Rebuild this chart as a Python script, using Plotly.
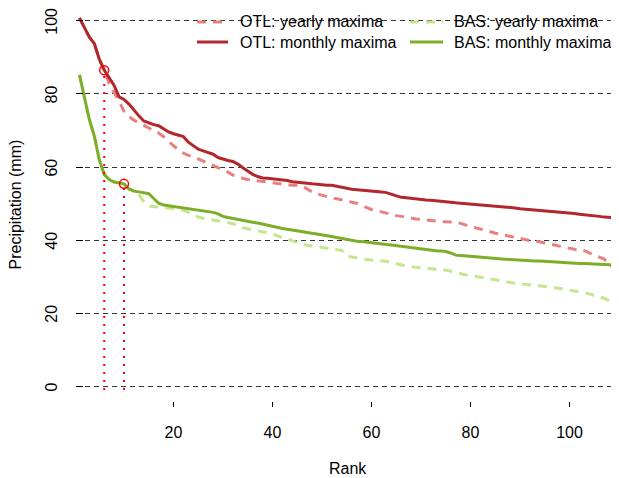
import plotly.graph_objects as go

ranks = list(range(1, 111))

otl_monthly = [100.8, 98.0, 95.5, 93.8, 89.5, 86.5, 84.2, 82.3, 79.2, 78.5,
               77.2, 75.5, 74.0, 72.6, 72.0, 71.6, 71.3, 70.5, 69.6, 69.1,
               68.8, 68.3, 66.8, 65.8, 64.9, 64.4, 63.9, 63.5, 62.6, 62.1,
               61.8, 61.5, 60.8, 59.8, 58.9, 58.0, 57.4, 57.0, 56.9, 56.8,
               56.6, 56.5, 56.3, 56.0, 55.8, 55.6, 55.5, 55.4, 55.3, 55.1,
               55.0, 55.0, 54.8, 54.6, 54.2, 53.9, 53.8, 53.7, 53.6, 53.5,
               53.4, 53.2, 53.0, 52.6, 52.2, 51.7, 51.6, 51.5, 51.4, 51.2,
               51.0, 50.9, 50.8, 50.6, 50.4, 50.4, 50.2, 50.1, 50.0, 49.9,
               49.8, 49.7, 49.6, 49.5, 49.3, 49.1, 49.0, 48.9, 48.8, 48.6,
               48.5, 48.3, 48.2, 48.2, 48.1, 48.0, 47.8, 47.7, 47.6, 47.5,
               47.3, 47.1, 47.0, 46.8, 46.6, 46.5, 46.3, 46.2, 46.1, 46.1]

otl_yearly = [100.8, 98.0, 95.5, 93.8, 89.5, 86.5, 82.8, 80.3, 78.0, 75.2,
              73.8, 72.8, 72.1, 71.6, 70.8, 70.0, 69.3, 68.3, 67.0, 65.8,
              64.8, 63.8, 63.2, 62.8, 62.2, 61.6, 61.0, 60.6, 59.8, 59.2,
              58.6, 57.8, 57.3, 56.9, 56.6, 56.4, 56.2, 56.0, 55.8, 55.6,
              55.5, 55.3, 55.1, 55.0, 55.0, 54.9, 54.0, 53.2, 52.7, 52.3,
              51.8, 51.5, 51.3, 51.0, 50.7, 50.4, 50.1, 49.5, 48.9, 48.4,
              48.1, 47.7, 47.3, 46.9, 46.7, 46.5, 46.2, 46.0, 45.8, 45.7,
              45.5, 45.3, 45.2, 45.1, 45.0, 45.0, 44.9, 44.6, 44.1, 43.7,
              43.4, 43.1, 42.8, 42.3, 41.9, 41.6, 41.2, 40.9, 40.6, 40.4,
              40.1, 39.9, 39.8, 39.5, 39.2, 38.9, 38.6, 38.2, 37.9, 37.7,
              37.5, 37.4, 37.1, 36.5, 36.0, 35.4, 34.8, 33.5, 32.0, 29.9]

bas_monthly = [85.2, 78.8, 73.0, 68.5, 62.0, 58.0, 56.6, 55.9, 55.7, 55.4,
               54.0, 53.4, 53.2, 53.0, 52.7, 51.4, 50.1, 49.6, 49.4, 49.3,
               49.2, 49.0, 48.8, 48.5, 48.3, 48.1, 47.9, 47.6, 47.2, 46.5,
               46.2, 45.9, 45.6, 45.3, 45.1, 44.9, 44.7, 44.4, 44.0, 43.6,
               43.4, 43.2, 43.0, 42.8, 42.5, 42.3, 42.1, 41.9, 41.7, 41.5,
               41.3, 41.0, 40.7, 40.4, 40.1, 39.9, 39.7, 39.6, 39.4, 39.3,
               39.1, 39.0, 38.8, 38.7, 38.5, 38.3, 38.1, 38.0, 37.8, 37.5,
               37.4, 37.2, 37.1, 37.0, 36.9, 36.5, 35.9, 35.8, 35.7, 35.6,
               35.5, 35.4, 35.4, 35.3, 35.1, 34.9, 34.8, 34.7, 34.6, 34.5,
               34.4, 34.4, 34.3, 34.3, 34.2, 34.1, 34.0, 33.9, 33.8, 33.8,
               33.7, 33.6, 33.6, 33.5, 33.5, 33.4, 33.3, 33.3, 33.2, 33.2]

bas_yearly = [85.2, 78.8, 73.0, 68.5, 62.0, 58.0, 56.6, 55.9, 55.7, 55.4,
              54.0, 53.5, 52.5, 50.5, 49.3, 49.1, 49.0, 48.9, 48.8, 48.6,
              48.4, 48.2, 47.6, 46.9, 46.3, 46.0, 45.8, 45.5, 45.2, 45.0,
              44.8, 44.5, 43.9, 43.4, 43.1, 42.8, 42.4, 42.1, 42.0, 41.8,
              41.2, 40.6, 40.3, 39.8, 39.2, 38.9, 38.6, 38.4, 38.2, 38.0,
              37.8, 37.6, 37.4, 37.2, 35.6, 35.3, 35.1, 34.9, 34.7, 34.6,
              34.5, 34.4, 34.2, 33.9, 33.5, 33.2, 32.9, 32.7, 32.6, 32.5,
              32.4, 32.2, 32.0, 31.9, 31.8, 31.5, 31.1, 30.8, 30.5, 30.3,
              30.1, 29.9, 29.6, 29.4, 29.2, 29.0, 28.7, 28.4, 28.2, 28.1,
              27.9, 27.8, 27.6, 27.5, 27.4, 27.2, 27.0, 26.8, 26.6, 26.4,
              26.2, 25.9, 25.6, 25.3, 24.9, 24.6, 24.1, 23.4, 20.5, 16.6]

x_ticks = [20, 40, 60, 80, 100]
y_ticks = [0, 20, 40, 60, 80, 100]
marked_ranks = [6, 10]  # OTL, BAS

series_names = ["OTL: yearly maxima", "OTL: monthly maxima",
                "BAS: yearly maxima", "BAS: monthly maxima"]
colors = ["#E88080", "#B2272B", "#C4E68C", "#7DAE2A"]
dashes = ["9px,7px", "solid", "9px,7px", "solid"]
series = [otl_yearly, otl_monthly, bas_yearly, bas_monthly]

FONT = "Arial, Liberation Sans, Helvetica, sans-serif"
# page body has an 8px default margin: figure sized to fill the rest of the window
OFF = 8
W, H = 619 - OFF, 478 - OFF
L, R, T, B = 76 - OFF, 0, 0, 77
pw, ph = W - L - R, H - T - B

fig = go.Figure()

for idx in [0, 2, 1, 3]:
    fig.add_trace(go.Scatter(
        x=ranks, y=series[idx], mode="lines", name=series_names[idx],
        line=dict(color=colors[idx], width=3, dash=dashes[idx]),
        showlegend=False, hoverinfo="skip"))

mark_vals = [otl_monthly[marked_ranks[0] - 1], bas_monthly[marked_ranks[1] - 1]]
for r, v in zip(marked_ranks, mark_vals):
    fig.add_trace(go.Scatter(
        x=[r, r], y=[-1, v], mode="lines",
        line=dict(color="#FF0000", width=2, dash="2px,6px"),
        showlegend=False, hoverinfo="skip"))
fig.add_trace(go.Scatter(
    x=marked_ranks, y=mark_vals, mode="markers",
    marker=dict(symbol="circle-open", size=9, color="#FF0000",
                line=dict(width=1.5, color="#FF0000")),
    showlegend=False, hoverinfo="skip"))

def px2x(px):
    return (px - OFF - L) / pw

def py2y(py):
    return (H - B - (py - OFF)) / ph

legend_layout = [
    (0, 197, 228, 239, 22),
    (1, 197, 228, 239, 42),
    (2, 410, 443, 453, 22),
    (3, 410, 443, 453, 42),
]
shapes = []
annotations = []
for idx, x0, x1, xt, yy in legend_layout:
    shapes.append(dict(type="line", xref="paper", yref="paper",
                       x0=px2x(x0), x1=px2x(x1), y0=py2y(yy), y1=py2y(yy),
                       line=dict(color=colors[idx], width=3, dash=dashes[idx])))
    annotations.append(dict(text=series_names[idx], xref="paper", yref="paper",
                            x=px2x(xt), y=py2y(yy), xanchor="left", yanchor="middle",
                            borderpad=0,
                            showarrow=False, font=dict(size=16, color="#000", family=FONT)))

annotations.append(dict(text="Rank", xref="paper", yref="paper", x=0.5, y=0,
                        xanchor="center", yanchor="middle", yshift=-67,
                        showarrow=False, font=dict(size=16, color="#000", family=FONT)))
annotations.append(dict(text="Precipitation (mm)", xref="paper", yref="paper", x=0, y=0.5,
                        xanchor="center", yanchor="middle", xshift=-(L + OFF - 15), textangle=-90,
                        showarrow=False, font=dict(size=16, color="#000", family=FONT)))

fig.update_layout(
    width=W, height=H,
    margin=dict(l=L, r=R, t=T, b=B, pad=0, autoexpand=False),
    paper_bgcolor="white", plot_bgcolor="white",
    font=dict(family=FONT, size=16, color="#000"),
    shapes=shapes, annotations=annotations,
    showlegend=False,
    xaxis=dict(range=[0.3, 110.0], tickvals=x_ticks, ticktext=[str(v) for v in x_ticks],
               automargin=False,
               showgrid=False, zeroline=False, showline=False,
               ticks="outside", ticklen=5, tickwidth=1, tickcolor="#000",
               ticklabelstandoff=12, tickfont=dict(size=16, color="#000", family=FONT)),
    yaxis=dict(range=[-4, 103.5], tickvals=y_ticks, ticktext=[str(v) for v in y_ticks],
               automargin=False, ticklabeloverflow="allow",
               showgrid=True, gridcolor="#333", gridwidth=1, griddash="5px,4px",
               zeroline=False, showline=False,
               ticks="inside", ticklen=7, tickwidth=1, tickcolor="#000",
               tickangle=-90, ticklabelstandoff=15, ticklabelshift=3,
               tickfont=dict(size=16, color="#000", family=FONT)),
)

fig.write_html("out.html",
               post_script="document.documentElement.style.overflow='hidden';"
                           "document.body.style.overflow='hidden';")
